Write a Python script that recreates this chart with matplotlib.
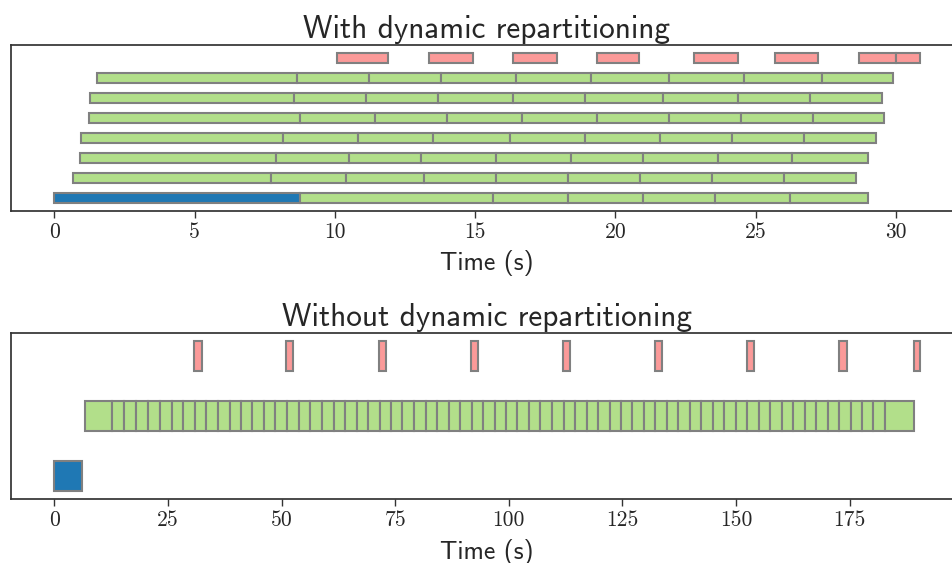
import matplotlib
matplotlib.use("Agg")
import matplotlib.pyplot as plt
import numpy as np

# colours for the three kinds of work
BLUE = "#1f78b4"
GREEN = "#b2df8a"
RED = "#fb9a99"
EDGE = "#808080"

# ---- with dynamic repartitioning (seconds) ----
# first worker: initial partitioning, then its tasks
dyn_init = [0.0, 8.76]
# task boundaries per worker row, bottom row first
dyn_rows = [
    [8.76, 15.63, 18.30, 20.97, 23.55, 26.22, 28.99],
    [0.65, 7.71, 10.39, 13.18, 15.74, 18.32, 20.88, 23.44, 26.01, 28.58],
    [0.92, 7.92, 10.51, 13.07, 15.74, 18.42, 20.97, 23.65, 26.31, 29.00],
    [0.94, 8.15, 10.82, 13.49, 16.25, 18.93, 21.60, 24.16, 26.73, 29.29],
    [1.25, 8.75, 11.44, 13.99, 16.67, 19.33, 21.91, 24.47, 27.04, 29.59],
    [1.29, 8.54, 11.11, 13.68, 16.35, 18.92, 21.70, 24.37, 26.93, 29.51],
    [1.53, 8.65, 11.22, 13.80, 16.47, 19.13, 21.91, 24.58, 27.35, 29.90],
]
# repartitioning steps (start, end)
dyn_repart = [(10.07, 11.91), (13.36, 14.92), (16.34, 17.93), (19.33, 20.84),
              (22.81, 24.38), (25.70, 27.22), (28.67, 30.01), (30.01, 30.85)]

# ---- without dynamic repartitioning (seconds) ----
static_init = [0.0, 6.03]
static_tasks = [6.75, 12.63, 15.27, 17.91, 20.62, 23.26, 25.83, 28.40, 30.96,
                33.47, 36.02, 38.59, 41.08, 43.59, 46.07, 48.56, 51.13, 53.77,
                56.35, 58.90, 61.47, 64.05, 66.53, 69.02, 71.59, 74.08, 76.59,
                79.14, 81.72, 84.20, 86.78, 89.26, 91.84, 94.32, 96.90, 99.38,
                101.89, 104.44, 106.95, 109.50, 112.08, 114.57, 117.14, 119.63,
                122.20, 124.69, 127.19, 129.68, 132.25, 134.81, 137.31, 139.80,
                142.37, 144.93, 147.44, 149.92, 152.50, 155.05, 157.56, 160.04,
                162.53, 165.11, 167.59, 170.17, 172.65, 175.23, 177.71, 180.22,
                182.77, 189.24]
static_repart = [(30.74, 32.50), (50.98, 52.61), (71.37, 72.98), (91.62, 93.22),
                 (111.93, 113.55), (132.1, 133.8), (152.3, 153.95), (172.6, 174.3),
                 (189.1, 190.4)]

TITLE_FONT = dict(family="cmss10", size=22.5)
LABEL_FONT = dict(family="cmss10", size=18.5)
TICK_FONT = "cmr10"


def segments(bounds, y, color, ax):
    b = np.asarray(bounds)
    ax.barh(np.full(len(b) - 1, y), np.diff(b), left=b[:-1], height=0.5,
            color=color, edgecolor=EDGE, linewidth=1.5)


def intervals(pairs, y, color, ax):
    starts = np.array([p[0] for p in pairs])
    ends = np.array([p[1] for p in pairs])
    ax.barh(np.full(len(pairs), y), ends - starts, left=starts, height=0.5,
            color=color, edgecolor=EDGE, linewidth=1.5)


def style(ax, title):
    # let the 5% margins apply on both sides of the bars
    ax.use_sticky_edges = False
    ax.autoscale_view()
    ax.set_title(title, fontdict=TITLE_FONT, color="#262626", pad=5)
    ax.set_xlabel("Time (s)", fontdict=LABEL_FONT, color="#262626", labelpad=6)
    ax.set_yticks([])
    for s in ax.spines.values():
        s.set_color("#333333")
        s.set_linewidth(1.25)
    ax.tick_params(axis="x", length=5, width=1, color="#333333",
                   labelsize=15.5, labelcolor="#262626")
    for lab in ax.get_xticklabels():
        lab.set_family(TICK_FONT)


fig = plt.figure(figsize=(9.52, 5.63), dpi=100)
ax1 = fig.add_axes([0.01155, 0.6258, 1.0, 0.2943])
ax2 = fig.add_axes([0.01155, 0.1137, 1.0, 0.2948])

segments(dyn_init, 0, BLUE, ax1)
for i, row in enumerate(dyn_rows):
    segments(row, i, GREEN, ax1)
intervals(dyn_repart, len(dyn_rows), RED, ax1)
ax1.set_xticks([0, 5, 10, 15, 20, 25, 30])
style(ax1, "With dynamic repartitioning")

segments(static_init, 0, BLUE, ax2)
segments(static_tasks, 1, GREEN, ax2)
intervals(static_repart, 2, RED, ax2)
ax2.set_xticks([0, 25, 50, 75, 100, 125, 150, 175])
style(ax2, "Without dynamic repartitioning")

fig.savefig("out.png", dpi=100)
